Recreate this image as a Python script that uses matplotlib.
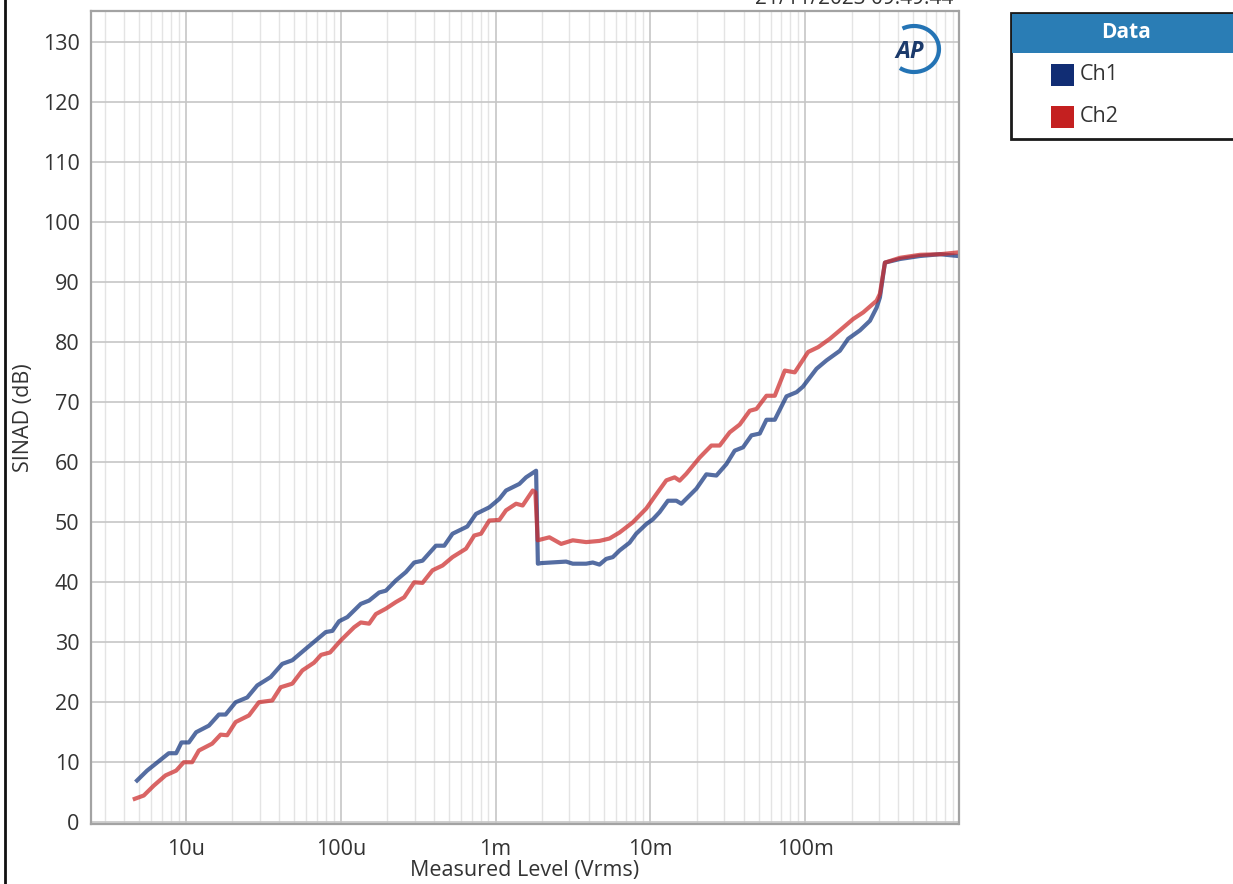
import numpy as np
import matplotlib
matplotlib.use("Agg")
import matplotlib.pyplot as plt
from matplotlib.ticker import FixedLocator, LogLocator, NullFormatter
from matplotlib.patches import Rectangle, Arc
from matplotlib.lines import Line2D

# Measured level (Vrms) and SINAD (dB)
ch1_level = [4.84e-6, 5.62e-6, 7.76e-6, 8.66e-6, 9.38e-6, 1.046e-5, 1.166e-5, 1.409e-5,
             1.635e-5, 1.806e-5, 2.097e-5, 2.492e-5, 2.892e-5, 3.531e-5, 4.197e-5, 4.871e-5,
             5.946e-5, 6.902e-5, 8.01e-5, 8.84e-5, 9.76e-5, 1.105e-4, 1.349e-4, 1.526e-4,
             1.772e-4, 1.958e-4, 2.272e-4, 2.637e-4, 2.985e-4, 3.377e-4, 4.122e-4, 4.665e-4,
             5.278e-4, 6.571e-4, 7.478e-4, 9.12e-4, 1.058e-3, 1.169e-3, 1.425e-3, 1.575e-3,
             1.828e-3, 1.877e-3, 1.969e-3, 2.858e-3, 3.153e-3, 3.849e-3, 4.247e-3, 4.693e-3,
             5.186e-3, 5.722e-3, 6.322e-3, 7.337e-3, 8.10e-3, 9.41e-3, 1.038e-2, 1.147e-2,
             1.298e-2, 1.471e-2, 1.585e-2, 1.981e-2, 2.299e-2, 2.669e-2, 3.097e-2, 3.505e-2,
             3.966e-2, 4.496e-2, 5.087e-2, 5.62e-2, 6.36e-2, 7.57e-2, 8.79e-2, 9.65e-2,
             0.1183, 0.1373, 0.1674, 0.1894, 0.2255, 0.2618, 0.2892, 0.3037, 0.3272,
             0.4091, 0.5511, 0.7427, 0.97]
ch1_sinad = [6.95, 8.6, 11.5, 11.5, 13.3, 13.3, 15.0, 16.1,
             17.95, 17.95, 20.0, 20.8, 22.8, 24.2, 26.4, 27.0,
             28.9, 30.3, 31.7, 31.9, 33.5, 34.2, 36.4, 36.95,
             38.3, 38.6, 40.3, 41.7, 43.3, 43.6, 46.1, 46.1,
             48.1, 49.3, 51.4, 52.5, 53.9, 55.3, 56.4, 57.5,
             58.6, 43.1, 43.2, 43.45, 43.1, 43.1, 43.3, 42.95,
             43.9, 44.2, 45.3, 46.6, 48.1, 49.7, 50.5, 51.7,
             53.6, 53.6, 53.1, 55.6, 58.0, 57.8, 59.7, 61.95,
             62.5, 64.5, 64.8, 67.1, 67.1, 71.0, 71.7, 72.6,
             75.6, 77.0, 78.6, 80.6, 82.0, 83.6, 85.8, 87.5, 93.3,
             93.9, 94.4, 94.7, 94.4]

ch2_level = [4.68e-6, 5.35e-6, 6.21e-6, 7.39e-6, 8.66e-6, 9.70e-6, 1.098e-5, 1.214e-5,
             1.480e-5, 1.677e-5, 1.849e-5, 2.097e-5, 2.556e-5, 2.966e-5, 3.616e-5, 4.098e-5,
             4.871e-5, 5.653e-5, 6.73e-5, 7.47e-5, 8.54e-5, 1.001e-4, 1.221e-4, 1.349e-4,
             1.526e-4, 1.687e-4, 1.958e-4, 2.272e-4, 2.571e-4, 2.985e-4, 3.377e-4, 3.918e-4,
             4.549e-4, 5.278e-4, 6.446e-4, 7.293e-4, 8.06e-4, 9.12e-4, 1.058e-3, 1.169e-3,
             1.357e-3, 1.497e-3, 1.738e-3, 1.809e-3, 1.872e-3, 2.228e-3, 2.653e-3, 3.153e-3,
             3.849e-3, 4.693e-3, 5.446e-3, 6.322e-3, 7.70e-3, 9.41e-3, 1.080e-2, 1.268e-2,
             1.434e-2, 1.545e-2, 1.707e-2, 2.081e-2, 2.477e-2, 2.803e-2, 3.253e-2, 3.776e-2,
             4.383e-2, 4.842e-2, 5.62e-2, 6.36e-2, 7.38e-2, 8.56e-2, 0.1044, 0.1212,
             0.1443, 0.1674, 0.2041, 0.2369, 0.2892, 0.3037, 0.3272, 0.4091, 0.5511,
             0.7427, 0.97]
ch2_sinad = [3.9, 4.45, 6.1, 7.8, 8.6, 10.0, 10.0, 11.95,
             13.1, 14.6, 14.5, 16.7, 17.8, 20.0, 20.3, 22.5,
             23.1, 25.3, 26.6, 27.9, 28.3, 30.3, 32.5, 33.3,
             33.1, 34.7, 35.6, 36.7, 37.5, 40.0, 39.9, 42.0,
             42.8, 44.2, 45.6, 47.8, 48.1, 50.3, 50.4, 52.0,
             53.1, 52.8, 55.3, 55.0, 47.0, 47.5, 46.4, 47.0,
             46.7, 46.9, 47.3, 48.3, 50.0, 52.3, 54.5, 57.0,
             57.5, 56.95, 58.1, 60.8, 62.8, 62.8, 65.0, 66.3,
             68.6, 68.9, 71.1, 71.1, 75.3, 75.0, 78.4, 79.2,
             80.6, 82.0, 83.9, 85.0, 86.95, 88.1, 93.3, 94.1, 94.6,
             94.7, 95.0]

x_ticks = [1e-5, 1e-4, 1e-3, 1e-2, 1e-1]
x_tick_labels = ["10u", "100u", "1m", "10m", "100m"]
y_ticks = list(range(0, 131, 10))

W, H = 1233, 884
plt.rcParams["font.family"] = ["Open Sans", "DejaVu Sans"]

fig = plt.figure(figsize=(W / 100, H / 100), dpi=100)
fig.patch.set_facecolor("white")


def fx(px):
    return px / W


def fy(py):
    return 1 - py / H


ax = fig.add_axes([fx(90.7), fy(824), fx(958.5) - fx(90.7), fy(10.7) - fy(824)])
ax.set_xscale("log")
ax.set_xlim(2.43e-6, 0.977)
ax.set_ylim(-0.3, 135.3)

ax.plot(ch1_level, ch1_sinad, color="#13357e", alpha=0.72, lw=3.0, solid_joinstyle="round")
ax.plot(ch2_level, ch2_sinad, color="#cc2a2a", alpha=0.72, lw=3.0, solid_joinstyle="round")

ax.xaxis.set_major_locator(FixedLocator(x_ticks))
ax.set_xticklabels(x_tick_labels)
ax.xaxis.set_minor_locator(LogLocator(base=10, subs=np.arange(2, 10)))
ax.xaxis.set_minor_formatter(NullFormatter())
ax.set_yticks(y_ticks)

ax.grid(which="major", color="#c6c6c6", lw=1.2)
ax.grid(which="minor", axis="x", color="#e4e4e4", lw=1.0)
ax.set_axisbelow(True)
ax.tick_params(which="both", length=0, labelsize=15.5, colors="#333333")
ax.tick_params(axis="y", pad=8)
ax.tick_params(axis="x", pad=11)
for s in ax.spines.values():
    s.set_color("#a3a3a3")
    s.set_linewidth(1.6)

ax.set_xlabel("Measured Level (Vrms)", fontsize=15.5, color="#333333", labelpad=0)
ax.set_ylabel("SINAD (dB)", fontsize=15.5, color="#333333", labelpad=6)

# AP logo
fig.text(fx(910), fy(52), "AP", fontsize=17, fontweight="bold", fontstyle="italic",
         color="#1b3a6b", ha="center", va="center")
logo_arc = Arc((fx(914), fy(49)), fx(50), 46 / H, theta1=-118, theta2=112,
               transform=fig.transFigure, color="#2474b5", lw=3)
fig.add_artist(logo_arc)

# partly cut-off timestamp above the plot
fig.text(fx(953), fy(3.5), "21/11/2023 09:49:44", ha="right", va="baseline",
         fontsize=15, color="#333333")

# window edge on the left
fig.add_artist(Line2D([fx(5), fx(5)], [0, 1], transform=fig.transFigure,
                      color="#111111", lw=2))

# legend panel
fig.add_artist(Rectangle((fx(1010.7), fy(139.3)), fx(1240) - fx(1010.7), fy(12.7) - fy(139.3),
                         transform=fig.transFigure, facecolor="white",
                         edgecolor="#1a1a1a", lw=2))
fig.add_artist(Rectangle((fx(1011.7), fy(53.3)), fx(1240) - fx(1011.7), fy(13.7) - fy(53.3),
                         transform=fig.transFigure, facecolor="#2a7db5",
                         edgecolor="none"))
fig.text(fx(1126.5), fy(33), "Data", ha="center", va="center", fontsize=15,
         fontweight="bold", color="white")
fig.add_artist(Rectangle((fx(1050.7), fy(86)), fx(23), 22 / H, transform=fig.transFigure,
                         facecolor="#112d74", edgecolor="none"))
fig.add_artist(Rectangle((fx(1050.7), fy(128)), fx(23), 22 / H, transform=fig.transFigure,
                         facecolor="#c42020", edgecolor="none"))
fig.text(fx(1080), fy(75), "Ch1", ha="left", va="center", fontsize=15.5, color="#333333")
fig.text(fx(1080), fy(117), "Ch2", ha="left", va="center", fontsize=15.5, color="#333333")

fig.savefig("out.png", dpi=100)
